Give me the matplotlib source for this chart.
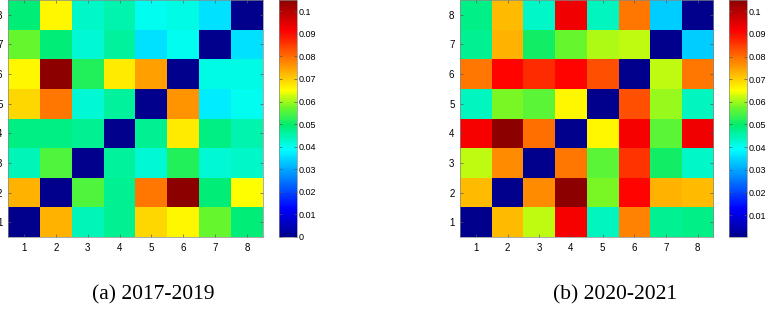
import numpy as np
import matplotlib
matplotlib.use("Agg")
import matplotlib.pyplot as plt
from matplotlib.colors import LinearSegmentedColormap

# rows listed from y=8 (top) down to y=1 (bottom), columns x=1..8
corr_2017_2019 = [
    [0.049, 0.066, 0.043, 0.045, 0.040, 0.041, 0.036, 0.000],
    [0.057, 0.049, 0.042, 0.046, 0.036, 0.040, 0.000, 0.036],
    [0.066, 0.105, 0.052, 0.067, 0.075, 0.000, 0.041, 0.041],
    [0.069, 0.079, 0.042, 0.046, 0.000, 0.076, 0.037, 0.040],
    [0.048, 0.048, 0.047, 0.000, 0.047, 0.067, 0.048, 0.045],
    [0.044, 0.055, 0.000, 0.046, 0.042, 0.052, 0.042, 0.043],
    [0.073, 0.000, 0.055, 0.047, 0.079, 0.105, 0.049, 0.065],
    [0.000, 0.073, 0.044, 0.047, 0.069, 0.066, 0.057, 0.049],
]

corr_2020_2021 = [
    [0.048, 0.072, 0.043, 0.093, 0.044, 0.079, 0.034, 0.000],
    [0.047, 0.073, 0.051, 0.057, 0.061, 0.062, 0.000, 0.034],
    [0.079, 0.091, 0.087, 0.091, 0.083, 0.000, 0.062, 0.079],
    [0.044, 0.058, 0.056, 0.066, 0.000, 0.083, 0.060, 0.044],
    [0.092, 0.105, 0.080, 0.000, 0.066, 0.092, 0.056, 0.093],
    [0.062, 0.077, 0.000, 0.079, 0.056, 0.086, 0.051, 0.043],
    [0.072, 0.000, 0.077, 0.105, 0.058, 0.091, 0.073, 0.072],
    [0.000, 0.072, 0.062, 0.092, 0.044, 0.078, 0.047, 0.048],
]

labels = [1, 2, 3, 4, 5, 6, 7, 8]
captions = ["(a) 2017-2019", "(b) 2020-2021"]
cbar_ticks_a = [0, 0.01, 0.02, 0.03, 0.04, 0.05, 0.06, 0.07, 0.08, 0.09, 0.1]
cbar_ticks_b = [0.01, 0.02, 0.03, 0.04, 0.05, 0.06, 0.07, 0.08, 0.09, 0.1]

# MATLAB-like jet, a bit more saturated in the green part
jet_sat = LinearSegmentedColormap.from_list("jet_sat", [
    (0.00, (0.0, 0.0, 0.55)),
    (0.12, (0.0, 0.0, 1.0)),
    (0.37, (0.0, 1.0, 1.0)),
    (0.47, (0.0, 0.93, 0.45)),
    (0.55, (0.45, 0.97, 0.15)),
    (0.62, (1.0, 1.0, 0.0)),
    (0.87, (1.0, 0.0, 0.0)),
    (1.00, (0.55, 0.0, 0.0)),
])

plt.rcParams["font.family"] = ["Liberation Sans", "DejaVu Sans"]

fig = plt.figure(figsize=(7.68, 3.16), dpi=100)

panels = [
    # heatmap rect, colorbar rect, data, vmin, ticks, caption x
    ([0.0104, 0.25, 0.332, 0.75], [0.363, 0.25, 0.0234, 0.75],
     corr_2017_2019, 0.0, cbar_ticks_a, 0.200),
    ([0.599, 0.25, 0.330, 0.75], [0.949, 0.25, 0.0234, 0.75],
     corr_2020_2021, 0.0003, cbar_ticks_b, 0.801),
]

for i, (rect, crect, data, vmin, cticks, cx) in enumerate(panels):
    ax = fig.add_axes(rect)
    arr = np.array(data)[::-1]  # flip so row 0 is y=1
    im = ax.imshow(arr, cmap=jet_sat, vmin=vmin, vmax=0.105, origin="lower",
                   aspect="auto", extent=(0.5, 8.5, 0.5, 8.5))
    ax.set_xticks(labels)
    ax.set_yticks(labels)
    ax.tick_params(direction="in", length=2, width=0.5, labelsize=7,
                   top=True, right=True, pad=4, color="#555555")
    for s in ax.spines.values():
        s.set_linewidth(0.5)
        s.set_color("#888888")

    cax = fig.add_axes(crect)
    cb = fig.colorbar(im, cax=cax, ticks=cticks)
    cb.ax.set_yticklabels([("%g" % t) for t in cticks])
    cb.ax.tick_params(direction="in", length=2, width=0.5, labelsize=6.5,
                      left=True, right=True, pad=1.5, color="#555555")
    cb.outline.set_linewidth(0.5)
    cb.outline.set_edgecolor("#888888")

    fig.text(cx, 0.066, captions[i], ha="center", va="center",
             fontsize=15.5, family=["Liberation Serif", "DejaVu Serif"])

fig.savefig("out.png", dpi=100)
